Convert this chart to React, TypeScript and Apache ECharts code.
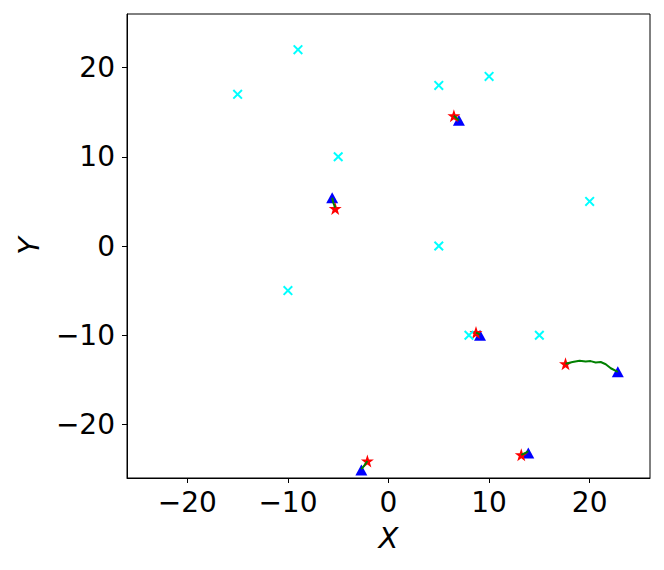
import React, { useEffect, useRef } from "react";
import * as echarts from "echarts";

const landmarkX = [-15, -9, 5, 10, -5, 5, 20, -10, 8, 15];
const landmarkY = [17, 22, 18, 19, 10, 0, 5, -5, -10, -10];

const startX = [6.5, -5.3, 8.7, 17.6, -2.1, 13.2];
const startY = [14.6, 4.2, -9.7, -13.2, -24.1, -23.4];
const endX = [7.0, -5.6, 9.1, 22.8, -2.7, 13.9];
const endY = [14.1, 5.4, -10.0, -14.1, -25.1, -23.2];

const trajX = [
  [6.5, 6.8, 7.0],
  [-5.6, -5.5, -5.3],
  [8.7, 8.9, 9.1],
  [17.6, 18.3, 19.0, 19.6, 20.1, 20.6, 21.1, 21.6, 22.1, 22.8],
  [-2.1, -2.4, -2.7],
  [13.2, 13.6, 13.9],
];
const trajY = [
  [14.6, 14.3, 14.1],
  [5.4, 4.9, 4.3],
  [-9.7, -9.8, -9.95],
  [-13.2, -13.0, -12.85, -12.95, -12.9, -13.05, -13.0, -13.25, -13.7, -14.1],
  [-24.1, -24.6, -25.0],
  [-23.4, -23.2, -23.0],
];

const tickValues = [-20, -10, 0, 10, 20];

function starPath(): string {
  const pts: string[] = [];
  for (let i = 0; i < 10; i++) {
    const r = i % 2 === 0 ? 10 : 3.9;
    const a = -Math.PI / 2 + (i * Math.PI) / 5;
    pts.push(`${(10 + r * Math.cos(a)).toFixed(3)},${(10 + r * Math.sin(a)).toFixed(3)}`);
  }
  return "path://M" + pts.join(" L") + " Z";
}

const crossPath =
  "path://M0,1.4 L1.4,0 L5,3.6 L8.6,0 L10,1.4 L6.4,5 L10,8.6 L8.6,10 L5,6.4 L1.4,10 L0,8.6 L3.6,5 Z";

const fmt = (v: number) => String(v).replace("-", "\u2212");

export default function App() {
  const ref = useRef<HTMLDivElement>(null);
  useEffect(() => {
    if (!ref.current) return;
    const chart = echarts.init(ref.current, undefined, { renderer: "svg" });
    const font = "DejaVu Sans";
    const axisCommon = {
      min: -26,
      max: 26,
      axisLine: { show: true, onZero: false, lineStyle: { color: "#000", width: 1 } },
      axisTick: { show: true, inside: false, length: 5, customValues: tickValues, lineStyle: { color: "#000" } },
      axisLabel: {
        customValues: tickValues,
        formatter: fmt,
        fontFamily: font,
        fontSize: 28,
        color: "#000",
      },
      splitLine: { show: false },
      nameLocation: "middle" as const,
      nameTextStyle: { fontFamily: font, fontSize: 29, fontStyle: "italic" as const, color: "#000" },
    };
    const series: any[] = [];
    series.push({
      type: "scatter",
      data: endX.map((x, i) => [x, endY[i]]),
      symbol: "triangle",
      symbolSize: [12, 11],
      itemStyle: { color: "#0000ff", opacity: 1 },
      z: 2,
    });
    series.push({
      type: "scatter",
      data: startX.map((x, i) => [x, startY[i]]),
      symbol: starPath(),
      symbolSize: 13,
      itemStyle: { color: "#ff0000", opacity: 1 },
      z: 3,
    });
    trajX.forEach((xs, k) => {
      series.push({
        type: "line",
        data: xs.map((x, i) => [x, trajY[k][i]]),
        showSymbol: false,
        symbol: "none",
        lineStyle: { color: "#008000", width: 2 },
        z: 4,
      });
    });
    series.push({
      type: "scatter",
      data: landmarkX.map((x, i) => [x, landmarkY[i]]),
      symbol: crossPath,
      symbolSize: 10,
      itemStyle: { color: "#00ffff", opacity: 1 },
      z: 5,
    });
    chart.setOption({
      animation: false,
      backgroundColor: "#fff",
      grid: {
        left: 127,
        top: 14,
        width: 523,
        height: 464,
        show: true,
        borderColor: "#000",
        borderWidth: 1,
        backgroundColor: "#fff",
        outerBoundsMode: "none",
      },
      xAxis: {
        type: "value",
        ...axisCommon,
        axisLabel: { ...axisCommon.axisLabel, margin: 10 },
        name: "X",
        nameGap: 45,
      },
      yAxis: {
        type: "value",
        ...axisCommon,
        axisLabel: { ...axisCommon.axisLabel, margin: 12 },
        name: "Y",
        nameGap: 84,
        nameRotate: 90,
      },
      series,
    });
    return () => chart.dispose();
  }, []);
  return (
    <div
      ref={ref}
      style={{ position: "absolute", left: 0, top: 0, width: 664, height: 570 }}
    />
  );
}
